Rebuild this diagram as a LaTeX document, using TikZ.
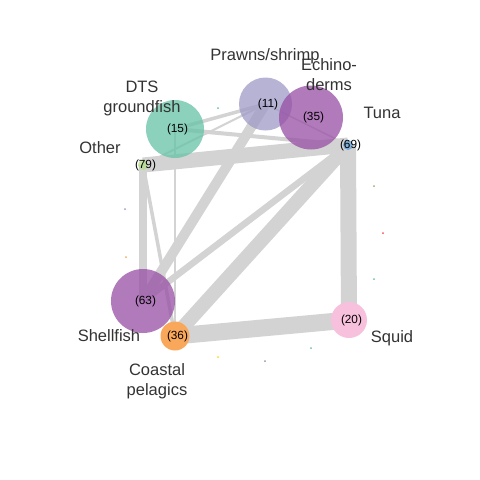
\documentclass[tikz,border=0pt]{standalone}
\usepackage{fontspec}
\setmainfont{Liberation Sans}
\definecolor{edgegray}{HTML}{D3D3D3}
\definecolor{cteal}{HTML}{66C2A5}
\definecolor{clav}{HTML}{9E9AC8}
\definecolor{cpurp}{HTML}{984EA3}
\definecolor{cblue}{HTML}{6FA8D8}
\definecolor{cgreen}{HTML}{B2DF8A}
\definecolor{corange}{HTML}{F9A85B}
\definecolor{cpink}{HTML}{F7C1DD}
\definecolor{labgray}{HTML}{333333}
\begin{document}
\begin{tikzpicture}[x=1pt,y=-1pt,
  vert/.style={circle,inner sep=0pt,minimum size=#1,fill opacity=0.75,draw=none},
  num/.style={font=\fontsize{11.8}{13}\selectfont,text=black,xshift=2.5pt,inner sep=0pt},
  lab/.style={font=\fontsize{16.5}{20}\selectfont,text=labgray,align=center,inner sep=0pt},
  edge/.style={draw=edgegray,line width=#1},
  dot/.style={circle,inner sep=0pt,minimum size=2pt,fill=#1,draw=none}]
\useasboundingbox (0,0) rectangle (480,480);
\fill[white] (0,0) rectangle (480,480);
% coordinates of vertices
\coordinate (cDTS) at (175,129);
\coordinate (cOther) at (143,165);
\coordinate (cPrawn) at (265.5,104);
\coordinate (cEchi) at (311,117.5);
\coordinate (cTuna) at (348,145);
\coordinate (cShell) at (143,301);
\coordinate (cCoast) at (175,336);
\coordinate (cSquid) at (349,320);
% edges
\draw[edge=15] (cOther) -- (cTuna);
\draw[edge=16] (cTuna) -- (cSquid);
\draw[edge=17] (cCoast) -- (cSquid);
\draw[edge=14] (cCoast) -- (cTuna);
\draw[edge=10] (cShell) -- (cPrawn);
\draw[edge=6.5] (cShell) -- (cTuna);
\draw[edge=7.5] (cShell) -- (cOther);
\draw[edge=3.5] (cOther) -- (cCoast);
\draw[edge=1.6] (cDTS) -- (cCoast);
\draw[edge=3.5] (cDTS) -- (cPrawn);
\draw[edge=4] (cDTS) -- (cTuna);
\draw[edge=2] (cOther) -- (cPrawn);
\draw[edge=1.5] (cPrawn) -- (cTuna);
% vertices
\node[vert=58pt,fill=cteal] (DTS) at (cDTS) {};
\node[vert=10pt,fill=cgreen] (Other) at (cOther) {};
\node[vert=53pt,fill=clav] (Prawn) at (cPrawn) {};
\node[vert=64pt,fill=cpurp] (Echi) at (cEchi) {};
\node[vert=10pt,fill=cblue,fill opacity=0.85] (Tuna) at (cTuna) {};
\node[vert=64pt,fill=cpurp] (Shell) at (cShell) {};
\node[vert=29pt,fill=corange,fill opacity=1] (Coast) at (cCoast) {};
\node[vert=36pt,fill=cpink,fill opacity=1] (Squid) at (cSquid) {};
% numbers
\node[num] (nDTS) at (cDTS) {(15)};
\node[num] (nOther) at (cOther) {(79)};
\node[num] (nPrawn) at (cPrawn) {(11)};
\node[num] (nEchi) at (cEchi) {(35)};
\node[num] (nTuna) at (cTuna) {(69)};
\node[num] (nShell) at (cShell) {(63)};
\node[num] (nCoast) at (cCoast) {(36)};
\node[num] (nSquid) at (cSquid) {(20)};
% isolated tiny vertices
\node[dot=cteal] (d1) at (218,108) {};
\node[dot=cgreen!80!black] (d2) at (374,186) {};
\node[dot=clav] (d3) at (125,209) {};
\node[dot=corange] (d4) at (126,257) {};
\node[dot=red!70] (d5) at (383,233) {};
\node[dot=cteal] (d6) at (374,279) {};
\node[dot=yellow!80!orange] (d7) at (218,357) {};
\node[dot=cteal] (d8) at (311,348) {};
\node[dot=clav!70!gray] (d9) at (265,361) {};
% labels
\node[lab] (lPrawn) at (265,56) {Prawns/shrimp};
\node[lab] (lEchi) at (329,75) {Echino-\\derms};
\node[lab] (lTuna) at (382,113) {Tuna};
\node[lab] (lDTS) at (142,98) {DTS\\groundfish};
\node[lab] (lOther) at (100,148) {Other};
\node[lab] (lShell) at (109,336) {Shellfish};
\node[lab] (lCoast) at (157,381) {Coastal\\pelagics};
\node[lab] (lSquid) at (392,338) {Squid};
\end{tikzpicture}
\end{document}
